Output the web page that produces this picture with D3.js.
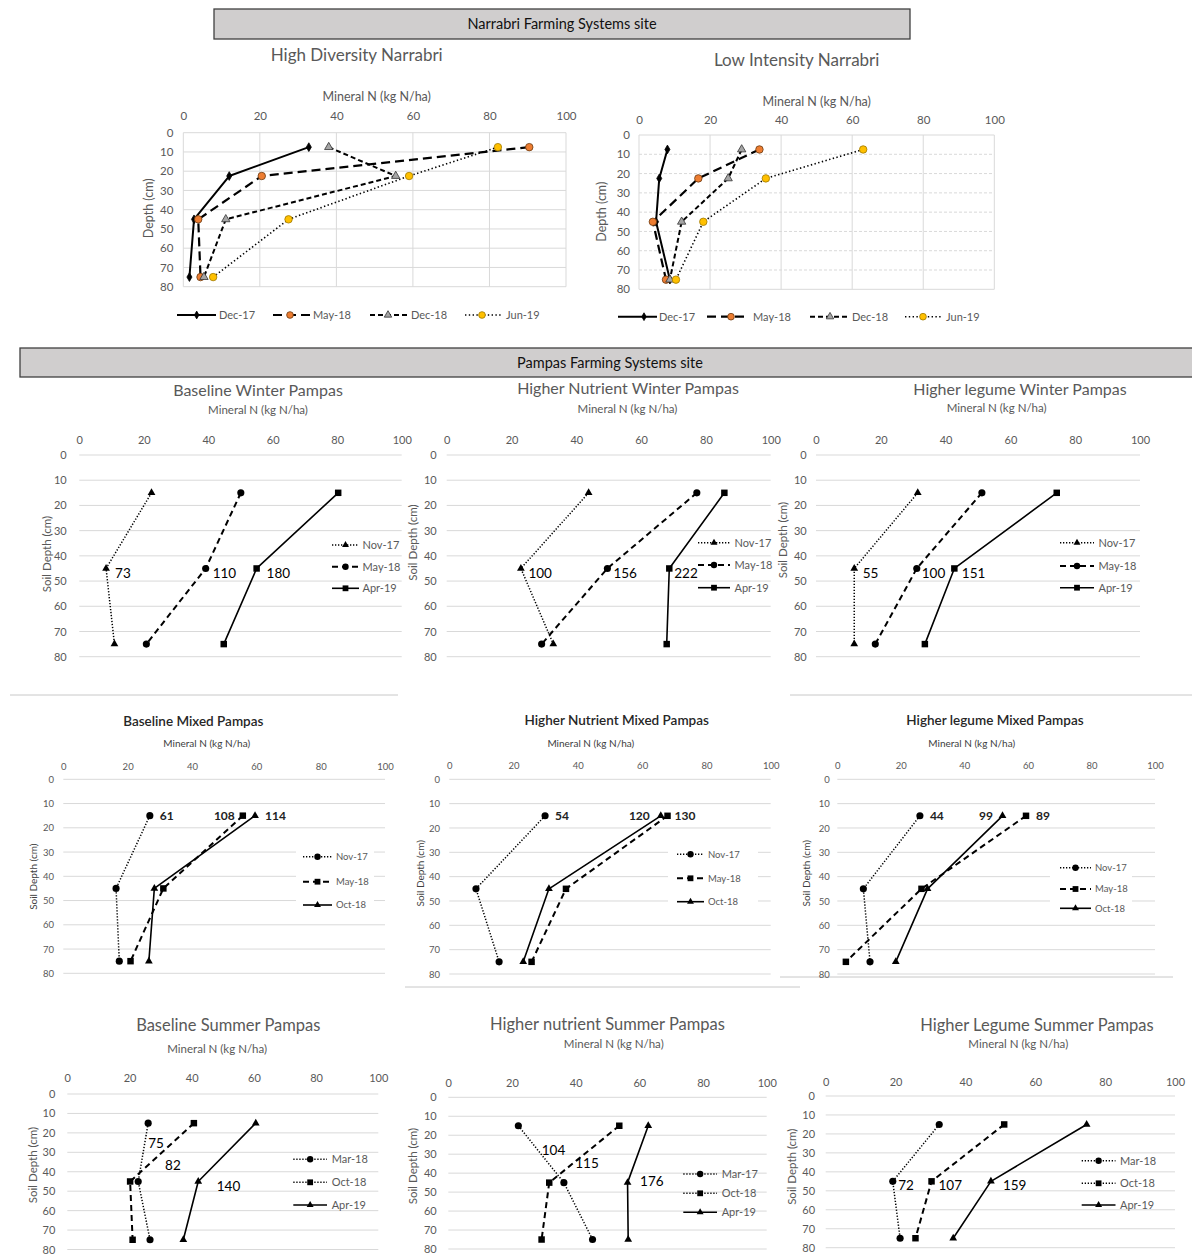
<!DOCTYPE html>
<html><head><meta charset="utf-8">
<script src="https://cdn.jsdelivr.net/npm/d3@7"></script>
<style>
body{margin:0;background:#fff}
svg{display:block}
text{font-family:Lato,"Open Sans",sans-serif}
</style>
</head><body>
<svg id="chart" width="1192" height="1255"></svg>
<script>
// ---- shared axes ----
const nTicks = [0, 20, 40, 60, 80, 100];
const depthTicks = [0, 10, 20, 30, 40, 50, 60, 70, 80];
const narrabriDepths = [7.5, 22.5, 45, 75];
const pampasDepths = [15, 45, 75];

// ---- Narrabri (kg N/ha at each depth) ----
const narrabriDates = ["Dec-17", "May-18", "Dec-18", "Jun-19"];
const hdDec17 = [32.8, 12.0, 2.8, 1.6];
const hdMay18 = [90.4, 20.5, 3.9, 4.5];
const hdDec18 = [38.0, 55.5, 11.1, 5.4];
const hdJun19 = [82.2, 59.0, 27.5, 7.8];

const liDec17 = [8.0, 5.7, 4.8, 8.7];
const liMay18 = [33.9, 16.7, 3.9, 7.6];
const liDec18 = [28.9, 25.1, 12.0, 8.7];
const liJun19 = [63.1, 35.7, 18.1, 10.4];

// ---- Pampas winter ----
const winterDates = ["Nov-17", "May-18", "Apr-19"];
const bwNov17 = [22.4, 8.3, 10.9];
const bwMay18 = [50.1, 39.2, 20.8];
const bwApr19 = [80.3, 55.0, 44.8];
const bwTotals = [73, 110, 180];

const hnwNov17 = [43.8, 22.9, 32.9];
const hnwMay18 = [77.2, 49.6, 29.3];
const hnwApr19 = [85.7, 68.7, 67.9];
const hnwTotals = [100, 156, 222];

const hlwNov17 = [31.4, 11.8, 11.8];
const hlwMay18 = [51.2, 31.1, 18.3];
const hlwApr19 = [74.3, 42.7, 33.6];
const hlwTotals = [55, 100, 151];

// ---- Pampas mixed ----
const mixedDates = ["Nov-17", "May-18", "Oct-18"];
const bmNov17 = [26.9, 16.4, 17.4];
const bmMay18 = [55.8, 31.1, 20.9];
const bmOct18 = [59.6, 28.3, 26.6];
const bmTotals = [61, 108, 114];

const hnmNov17 = [29.8, 8.3, 15.5];
const hnmMay18 = [67.9, 36.3, 25.6];
const hnmOct18 = [65.8, 31.0, 23.0];
const hnmTotals = [54, 130, 120];

const hlmNov17 = [26.0, 8.2, 10.3];
const hlmMay18 = [59.4, 26.5, 2.7];
const hlmOct18 = [52.0, 28.4, 18.4];
const hlmTotals = [44, 89, 99];

// ---- Pampas summer ----
const summerDates = ["Mar-18", "Oct-18", "Apr-19"];
const hnSummerDates = ["Mar-17", "Oct-18", "Apr-19"];
const bsMar18 = [26.0, 22.8, 26.6];
const bsOct18 = [40.7, 20.2, 21.0];
const bsApr19 = [60.6, 42.1, 37.3];
const bsTotals = [75, 82, 140];

const hnsMar17 = [22.0, 36.3, 45.3];
const hnsOct18 = [53.7, 31.7, 29.3];
const hnsApr19 = [62.8, 56.3, 56.5];
const hnsTotals = [104, 115, 176];

const hlsMar18 = [32.5, 19.2, 21.3];
const hlsOct18 = [51.1, 30.3, 25.7];
const hlsApr19 = [74.7, 47.3, 36.5];
const hlsTotals = [72, 107, 159];

// ---- styles ----
const LINE = {
  solid:    {dash: null, w: 2},
  longdash: {dash: "9,5", w: 2.2},
  dash:     {dash: "5,3", w: 2},
  dot:      {dash: "1.4,2.4", w: 1.6},
  pdot:     {dash: "1.3,1.7", w: 1.5},
  pdash:    {dash: "6,4", w: 2},
  psolid:   {dash: null, w: 1.6}
};
const MK = {
  diamond: {t: d3.symbolDiamond, s: 22, fill: "#000", stroke: "#000"},
  orange:  {t: d3.symbolCircle, s: 44, fill: "#ED7D31", stroke: "#6b3a10"},
  greyTri: {t: d3.symbolTriangle, s: 30, fill: "#A5A5A5", stroke: "#333"},
  yellow:  {t: d3.symbolCircle, s: 44, fill: "#FFC000", stroke: "#a07800"},
  tri:     {t: d3.symbolTriangle, s: 26, fill: "#000", stroke: "none"},
  dot:     {t: d3.symbolCircle, s: 40, fill: "#000", stroke: "none"},
  sq:      {t: d3.symbolSquare, s: 42, fill: "#000", stroke: "none"}
};
const GREY = "#595959";
const GRID = "#d9d9d9";

const svg = d3.select("#chart");

// site banners
function banner(x, y, w, h, text) {
  svg.append("rect").attr("x", x).attr("y", y).attr("width", w).attr("height", h)
    .attr("fill", "#d0cece").attr("stroke", "#404040").attr("stroke-width", 1.3);
  svg.append("text").attr("x", x + w / 2).attr("y", y + h / 2 + 5)
    .attr("text-anchor", "middle").attr("font-size", 14.5)
    .style("font-family", "'Liberation Sans Narrow','Arial Narrow',Lato,sans-serif")
    .attr("fill", "#111").text(text);
}
banner(214, 9, 696, 30, "Narrabri Farming Systems site");
banner(20, 348, 1180, 29, "Pampas Farming Systems site");

// faint frame remnants between panels
[[10, 695, 398, 695], [790, 695, 1192, 695], [405, 987, 800, 987], [780, 977, 1173, 977]]
  .forEach(l => svg.append("line").attr("x1", l[0]).attr("y1", l[1]).attr("x2", l[2]).attr("y2", l[3])
    .attr("stroke", "#c8c8c8").attr("stroke-width", 1));

function drawPanel(p) {
  const g = svg.append("g");
  const x = d3.scaleLinear().domain([0, 100]).range([p.x0, p.x1]);
  const y = d3.scaleLinear().domain([0, 80]).range([p.y0, p.y1]);

  // gridlines
  g.append("g").selectAll("line").data(depthTicks).join("line")
    .attr("x1", p.x0).attr("x2", p.x1).attr("y1", d => y(d)).attr("y2", d => y(d))
    .attr("stroke", GRID).attr("stroke-width", 1)
    .attr("stroke-dasharray", d => (p.grid === "dashH" && d !== 0 && d !== 80) ? "3,2" : null);
  if (p.grid === "full" || p.grid === "dashH") {
    g.append("g").selectAll("line").data(nTicks).join("line")
      .attr("x1", d => x(d)).attr("x2", d => x(d)).attr("y1", p.y0).attr("y2", p.y1)
      .attr("stroke", GRID).attr("stroke-width", 1);
  }

  // value axis on top, depth axis on the left
  const ax = g.append("g").attr("transform", `translate(0,${p.y0})`)
    .call(d3.axisTop(x).tickValues(nTicks).tickSize(0).tickPadding(p.xPad));
  const ay = g.append("g").attr("transform", `translate(${p.x0},0)`)
    .call(d3.axisLeft(y).tickValues(depthTicks).tickSize(0).tickPadding(p.yPad));
  [ax, ay].forEach(a => {
    a.select(".domain").remove();
    a.selectAll("text").attr("font-size", p.tickSize).attr("fill", GREY)
      .style("font-family", "Lato,sans-serif");
  });

  // titles
  const t = p.title;
  g.append("text").attr("x", t.x).attr("y", t.y).attr("text-anchor", "middle")
    .attr("font-size", t.size).attr("fill", t.color || GREY)
    .attr("font-weight", t.weight || "normal").text(t.text);
  const at = p.axisTitle;
  g.append("text").attr("x", at.x).attr("y", at.y).attr("text-anchor", "middle")
    .attr("font-size", at.size).attr("fill", at.color || GREY).text("Mineral N (kg N/ha)");
  const yt = p.yTitle;
  g.append("text").attr("transform", `translate(${yt.x},${yt.y}) rotate(-90)`)
    .attr("text-anchor", "middle").attr("dy", "0.35em")
    .attr("font-size", yt.size).attr("fill", yt.color || GREY).text(yt.text);

  // series
  const line = d3.line().x(d => x(d.v)).y(d => y(d.d));
  const pts = p.series.map(s => s.values.map((v, i) => ({v, d: p.depths[i]})));
  p.series.forEach((s, k) => {
    const st = LINE[s.line];
    g.append("path").datum(pts[k]).attr("d", line).attr("fill", "none")
      .attr("stroke", "#000").attr("stroke-width", st.w)
      .attr("stroke-dasharray", st.dash).attr("stroke-linejoin", "round");
  });
  p.series.forEach((s, k) => {
    const m = MK[s.marker];
    g.append("g").selectAll("path").data(pts[k]).join("path")
      .attr("transform", d => `translate(${x(d.v)},${y(d.d)})`)
      .attr("d", d3.symbol().type(m.t).size(m.s))
      .attr("fill", m.fill).attr("stroke", m.stroke).attr("stroke-width", 0.8);
  });

  // profile totals
  if (p.labels) {
    p.labels.forEach(l => {
      const d = pts[l.s][l.i];
      g.append("text").attr("x", x(d.v) + l.dx).attr("y", y(d.d) + l.dy)
        .attr("text-anchor", l.anchor || "start")
        .attr("font-size", p.labelSize).attr("font-weight", p.labelWeight || "normal")
        .attr("fill", p.labelColor || "#000").text(l.text);
    });
  }

  // legend
  const lg = p.legend;
  if (lg.bg) {
    g.append("rect").attr("x", lg.bg[0]).attr("y", lg.bg[1]).attr("width", lg.bg[2]).attr("height", lg.bg[3])
      .attr("fill", "#fff");
  }
  p.series.forEach((s, k) => {
    const it = lg.items[k];
    const st = LINE[s.legendLine || s.line];
    g.append("line").attr("x1", it.x0).attr("x2", it.x1).attr("y1", it.y).attr("y2", it.y)
      .attr("stroke", "#000").attr("stroke-width", st.w).attr("stroke-dasharray", st.dash);
    const m = MK[s.marker];
    g.append("path").attr("transform", `translate(${it.mx != null ? it.mx : (it.x0 + it.x1) / 2},${it.y})`)
      .attr("d", d3.symbol().type(m.t).size(m.s * 0.8))
      .attr("fill", m.fill).attr("stroke", m.stroke).attr("stroke-width", 0.8);
    g.append("text").attr("x", it.tx).attr("y", it.y).attr("dy", "0.35em")
      .attr("font-size", lg.size).attr("fill", GREY).text(s.name);
  });
}

function stack(x0, x1, tx, ys) {
  return ys.map(y => ({x0, x1, tx, y}));
}

const panels = [
  {
    x0: 183.3, x1: 566, y0: 132.7, y1: 286.7, grid: "full", xPad: 12.7, yPad: 10, tickSize: 11.5,
    title: {text: "High Diversity Narrabri", x: 356.7, y: 61, size: 17},
    axisTitle: {x: 376.7, y: 101, size: 12.5},
    yTitle: {text: "Depth (cm)", x: 148.3, y: 208.3, size: 12.5},
    depths: narrabriDepths,
    series: [
      {name: narrabriDates[0], values: hdDec17, line: "solid", marker: "diamond"},
      {name: narrabriDates[1], values: hdMay18, line: "longdash", marker: "orange"},
      {name: narrabriDates[2], values: hdDec18, line: "dash", marker: "greyTri"},
      {name: narrabriDates[3], values: hdJun19, line: "dot", marker: "yellow"}
    ],
    legend: {size: 11, items: [
      {x0: 177, x1: 216, mx: 196.7, tx: 219, y: 315},
      {x0: 273, x1: 310, mx: 290, tx: 313, y: 315},
      {x0: 370, x1: 407, mx: 388, tx: 411, y: 315},
      {x0: 465, x1: 502, mx: 482, tx: 506, y: 315}
    ]}
  },
  {
    x0: 639, x1: 994.3, y0: 135, y1: 289.3, grid: "dashH", xPad: 11, yPad: 9, tickSize: 11.5,
    title: {text: "Low Intensity Narrabri", x: 796.7, y: 66, size: 17},
    axisTitle: {x: 816.7, y: 105.5, size: 12.5},
    yTitle: {text: "Depth (cm)", x: 601.7, y: 211.7, size: 12.5},
    depths: narrabriDepths,
    series: [
      {name: narrabriDates[0], values: liDec17, line: "solid", marker: "diamond"},
      {name: narrabriDates[1], values: liMay18, line: "longdash", marker: "orange"},
      {name: narrabriDates[2], values: liDec18, line: "dash", marker: "greyTri"},
      {name: narrabriDates[3], values: liJun19, line: "dot", marker: "yellow"}
    ],
    legend: {size: 11, items: [
      {x0: 618, x1: 657, mx: 644, tx: 659, y: 316.7},
      {x0: 707, x1: 745, mx: 731, tx: 753, y: 316.7},
      {x0: 810, x1: 848, mx: 830, tx: 852, y: 316.7},
      {x0: 905, x1: 943, mx: 923, tx: 946, y: 316.7}
    ]}
  },
  // winter row
  {
    x0: 79.3, x1: 401.7, y0: 455, y1: 656.7, grid: "h", xPad: 11, yPad: 12.6, tickSize: 11,
    title: {text: "Baseline Winter Pampas", x: 258, y: 395.5, size: 16},
    axisTitle: {x: 258, y: 414, size: 11.5},
    yTitle: {text: "Soil Depth (cm)", x: 46.7, y: 554, size: 11.5},
    depths: pampasDepths,
    series: [
      {name: winterDates[0], values: bwNov17, line: "pdot", marker: "tri"},
      {name: winterDates[1], values: bwMay18, line: "pdash", marker: "dot"},
      {name: winterDates[2], values: bwApr19, line: "psolid", marker: "sq"}
    ],
    labelSize: 13.5,
    labels: bwTotals.map((v, k) => ({text: v, s: k, i: 1, dx: [9, 7, 10][k], dy: 10})),
    legend: {size: 11, items: stack(332, 359, 362.5, [545, 566.7, 588.3])}
  },
  {
    x0: 446.7, x1: 770.7, y0: 455, y1: 656.7, grid: "h", xPad: 11, yPad: 10, tickSize: 11,
    title: {text: "Higher Nutrient Winter Pampas", x: 628, y: 393.5, size: 16},
    axisTitle: {x: 627.5, y: 413, size: 11.5},
    yTitle: {text: "Soil Depth (cm)", x: 413.3, y: 542.5, size: 11.5},
    depths: pampasDepths,
    series: [
      {name: winterDates[0], values: hnwNov17, line: "pdot", marker: "tri"},
      {name: winterDates[1], values: hnwMay18, line: "pdash", marker: "dot"},
      {name: winterDates[2], values: hnwApr19, line: "psolid", marker: "sq"}
    ],
    labelSize: 13.5,
    labels: hnwTotals.map((v, k) => ({text: v, s: k, i: 1, dx: [7.5, 6, 5][k], dy: 10})),
    legend: {size: 11, items: stack(698, 730, 734.5, [542.7, 565, 587.7])}
  },
  {
    x0: 816, x1: 1140, y0: 455, y1: 656.7, grid: "h", xPad: 11, yPad: 9.3, tickSize: 11,
    title: {text: "Higher legume Winter Pampas", x: 1020, y: 394.5, size: 16},
    axisTitle: {x: 996.7, y: 412, size: 11.5},
    yTitle: {text: "Soil Depth (cm)", x: 783, y: 540, size: 11.5},
    depths: pampasDepths,
    series: [
      {name: winterDates[0], values: hlwNov17, line: "pdot", marker: "tri"},
      {name: winterDates[1], values: hlwMay18, line: "pdash", marker: "dot"},
      {name: winterDates[2], values: hlwApr19, line: "psolid", marker: "sq"}
    ],
    labelSize: 13.5,
    labels: hlwTotals.map((v, k) => ({text: v, s: k, i: 1, dx: [8.5, 5, 7.5][k], dy: 10})),
    legend: {size: 11, items: stack(1060, 1094, 1098.5, [542.7, 566, 587.7])}
  },
  // mixed row
  {
    x0: 63.3, x1: 385, y0: 779.3, y1: 973.3, grid: "h", xPad: 9.8, yPad: 9.3, tickSize: 9.5,
    title: {text: "Baseline Mixed Pampas", x: 193.3, y: 726, size: 13.5, color: "#262626", weight: 600},
    axisTitle: {x: 206.7, y: 747, size: 10, color: "#404040"},
    yTitle: {text: "Soil Depth (cm)", x: 33.3, y: 876.7, size: 10, color: "#404040"},
    depths: pampasDepths,
    series: [
      {name: mixedDates[0], values: bmNov17, line: "pdot", marker: "dot"},
      {name: mixedDates[1], values: bmMay18, line: "pdash", marker: "sq"},
      {name: mixedDates[2], values: bmOct18, line: "psolid", marker: "tri"}
    ],
    labelSize: 12, labelWeight: 700, labelColor: "#222",
    labels: [
      {text: bmTotals[0], s: 0, i: 0, dx: 10, dy: 4.5},
      {text: bmTotals[1], s: 1, i: 0, dx: -8, dy: 4.5, anchor: "end"},
      {text: bmTotals[2], s: 2, i: 0, dx: 10, dy: 4.5}
    ],
    legend: {size: 9.5, bg: [296, 843, 78, 72], items: stack(303, 332, 336, [856.7, 881.7, 905])}
  },
  {
    x0: 449.3, x1: 770.7, y0: 779.3, y1: 974, grid: "h", xPad: 10, yPad: 9.3, tickSize: 9.5,
    title: {text: "Higher Nutrient Mixed Pampas", x: 616.7, y: 724.5, size: 13.5, color: "#262626", weight: 600},
    axisTitle: {x: 590.8, y: 747, size: 10, color: "#404040"},
    yTitle: {text: "Soil Depth (cm)", x: 420, y: 873.3, size: 10, color: "#404040"},
    depths: pampasDepths,
    series: [
      {name: mixedDates[0], values: hnmNov17, line: "pdot", marker: "dot"},
      {name: mixedDates[1], values: hnmMay18, line: "pdash", marker: "sq"},
      {name: mixedDates[2], values: hnmOct18, line: "psolid", marker: "tri"}
    ],
    labelSize: 12, labelWeight: 700, labelColor: "#222",
    labels: [
      {text: hnmTotals[0], s: 0, i: 0, dx: 10, dy: 4.5},
      {text: hnmTotals[1], s: 1, i: 0, dx: 7, dy: 4.5},
      {text: hnmTotals[2], s: 2, i: 0, dx: -11, dy: 4.5, anchor: "end"}
    ],
    legend: {size: 9.5, bg: [668, 842, 90, 72], items: stack(677, 704, 708, [854.3, 878.3, 901.7])}
  },
  {
    x0: 837.3, x1: 1155, y0: 779.3, y1: 974, grid: "h", xPad: 10, yPad: 7.5, tickSize: 9.5,
    title: {text: "Higher legume Mixed Pampas", x: 995, y: 724.5, size: 13.5, color: "#262626", weight: 600},
    axisTitle: {x: 971.7, y: 747, size: 10, color: "#404040"},
    yTitle: {text: "Soil Depth (cm)", x: 806.7, y: 873.3, size: 10, color: "#404040"},
    depths: pampasDepths,
    series: [
      {name: mixedDates[0], values: hlmNov17, line: "pdot", marker: "dot"},
      {name: mixedDates[1], values: hlmMay18, line: "pdash", marker: "sq"},
      {name: mixedDates[2], values: hlmOct18, line: "psolid", marker: "tri"}
    ],
    labelSize: 12, labelWeight: 700, labelColor: "#222",
    labels: [
      {text: hlmTotals[0], s: 0, i: 0, dx: 10, dy: 4.5},
      {text: hlmTotals[1], s: 1, i: 0, dx: 10, dy: 4.5},
      {text: hlmTotals[2], s: 2, i: 0, dx: -9.5, dy: 4.5, anchor: "end"}
    ],
    legend: {size: 9.5, bg: [1050, 856, 82, 62], items: stack(1060, 1091, 1095, [867.7, 889, 908.3])}
  },
  // summer row
  {
    x0: 67.3, x1: 378.3, y0: 1094, y1: 1249.5, grid: "h", xPad: 11.7, yPad: 12, tickSize: 11,
    title: {text: "Baseline Summer Pampas", x: 228.3, y: 1031, size: 16.5},
    axisTitle: {x: 217.2, y: 1052.5, size: 11.5},
    yTitle: {text: "Soil Depth (cm)", x: 33.3, y: 1165, size: 11.5},
    depths: pampasDepths,
    series: [
      {name: summerDates[0], values: bsMar18, line: "pdot", marker: "dot"},
      {name: summerDates[1], values: bsOct18, line: "pdash", legendLine: "pdot", marker: "sq"},
      {name: summerDates[2], values: bsApr19, line: "psolid", marker: "tri"}
    ],
    labelSize: 13.5,
    labels: [
      {text: bsTotals[0], s: 0, i: 0, dx: 0, dy: 25},
      {text: bsTotals[1], s: 1, i: 1, dx: 35, dy: -11},
      {text: bsTotals[2], s: 2, i: 1, dx: 18.5, dy: 9.5}
    ],
    legend: {size: 11, items: stack(293.3, 327, 331.7, [1159.3, 1182.3, 1205])}
  },
  {
    x0: 448.3, x1: 766.7, y0: 1097.3, y1: 1249, grid: "h", xPad: 10.6, yPad: 11.6, tickSize: 11,
    title: {text: "Higher nutrient Summer Pampas", x: 607.5, y: 1030, size: 16.5},
    axisTitle: {x: 613.8, y: 1047.5, size: 11.5},
    yTitle: {text: "Soil Depth (cm)", x: 413.3, y: 1166, size: 11.5},
    depths: pampasDepths,
    series: [
      {name: hnSummerDates[0], values: hnsMar17, line: "pdot", marker: "dot"},
      {name: hnSummerDates[1], values: hnsOct18, line: "pdash", legendLine: "pdot", marker: "sq"},
      {name: hnSummerDates[2], values: hnsApr19, line: "psolid", marker: "tri"}
    ],
    labelSize: 13.5,
    labels: [
      {text: hnsTotals[0], s: 0, i: 0, dx: 23.4, dy: 29},
      {text: hnsTotals[1], s: 1, i: 1, dx: 26, dy: -14.5},
      {text: hnsTotals[2], s: 2, i: 1, dx: 12.5, dy: 3}
    ],
    legend: {size: 11, items: stack(683.3, 717, 721.7, [1174, 1193.3, 1212.3])}
  },
  {
    x0: 825.7, x1: 1175, y0: 1096, y1: 1247.7, grid: "h", xPad: 10.3, yPad: 10.7, tickSize: 11,
    title: {text: "Higher Legume Summer Pampas", x: 1037, y: 1031, size: 16.5},
    axisTitle: {x: 1018.3, y: 1047.5, size: 11.5},
    yTitle: {text: "Soil Depth (cm)", x: 791.7, y: 1166.7, size: 11.5},
    depths: pampasDepths,
    series: [
      {name: summerDates[0], values: hlsMar18, line: "pdot", marker: "dot"},
      {name: summerDates[1], values: hlsOct18, line: "pdash", legendLine: "pdot", marker: "sq"},
      {name: summerDates[2], values: hlsApr19, line: "psolid", marker: "tri"}
    ],
    labelSize: 13.5,
    labels: [
      {text: hlsTotals[0], s: 0, i: 1, dx: 5.5, dy: 9},
      {text: hlsTotals[1], s: 1, i: 1, dx: 7, dy: 9},
      {text: hlsTotals[2], s: 2, i: 1, dx: 12, dy: 9}
    ],
    legend: {size: 11, items: stack(1081.7, 1115.5, 1120, [1160.7, 1183.3, 1205])}
  }
];

panels.forEach(drawPanel);
</script>
</body></html>
